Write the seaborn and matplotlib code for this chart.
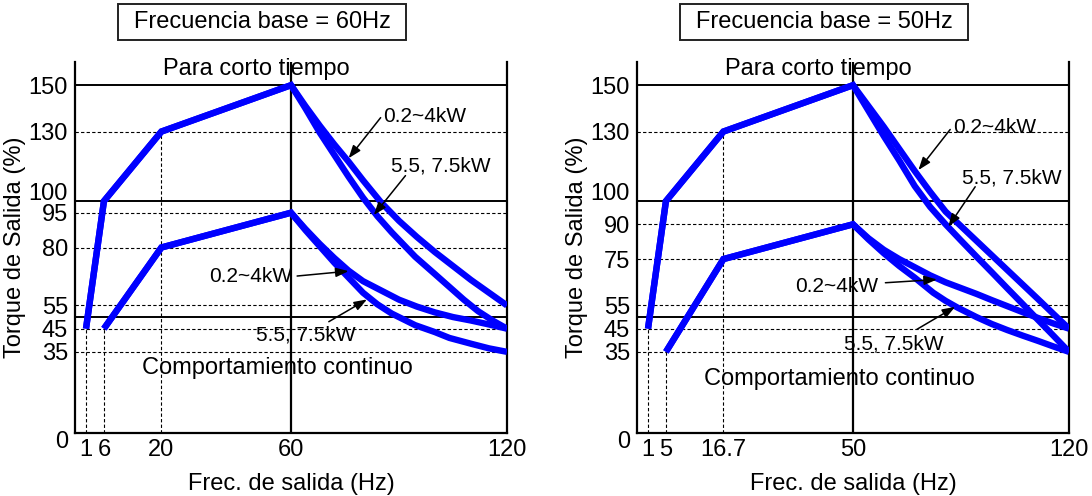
import numpy as np
import matplotlib
matplotlib.use("Agg")
import matplotlib.pyplot as plt
import seaborn as sns
from matplotlib.patches import Rectangle
from matplotlib.transforms import ScaledTranslation

# ---------------- data ----------------
# Left panel: base frequency 60 Hz
l_title = "Frecuencia base = 60Hz"
l_xticks = [1, 6, 20, 60, 120]
l_xtick_labels = ["1", "6", "20", "60", "120"]
l_yticks = [0, 35, 45, 55, 80, 95, 100, 130, 150]
l_dashed_h = [130, 95, 80, 55, 45, 35]
l_solid_h = [150, 100, 50]

l_short_rise_x = [1, 6, 20, 60]
l_short_rise_y = [45, 100, 130, 150]
l_short_small_x = [60, 64, 68, 72, 76, 80, 85, 90, 95, 100, 105, 110, 115, 120]
l_short_small_y = [150, 141, 132.5, 124.5, 117, 109, 99.5, 91.5, 84.5, 78, 72, 66, 60.5, 55]
l_short_big_x = [60, 64, 68, 72, 76, 80, 84, 88, 94.5, 100, 104, 108, 112, 116, 120]
l_short_big_y = [150, 140, 129.5, 120, 110.5, 101.5, 93.5, 86.5, 76, 68.5, 63, 57.5, 52.5, 48.5, 45]

l_cont_rise_x = [6, 20, 60]
l_cont_rise_y = [45, 80, 95]
l_cont_small_x = [60, 64, 68, 72, 76, 80, 85, 90, 95, 100, 105, 110, 115, 120]
l_cont_small_y = [95, 88, 81.5, 75.5, 70, 65.5, 61.5, 57.5, 54.5, 52, 50, 48.5, 46.8, 45]
l_cont_big_x = [60, 64, 68, 72, 76, 80, 84, 88, 94.5, 100, 104, 110, 115, 120]
l_cont_big_y = [95, 87.5, 80.5, 73.5, 67, 60.5, 55.5, 51.5, 46.5, 43.5, 41, 38.5, 36.5, 35]

# Right panel: base frequency 50 Hz
r_title = "Frecuencia base = 50Hz"
r_xticks = [1, 5, 16.7, 50, 120]
r_xtick_labels = ["1", "5", "16.7", "50", "120"]
r_yticks = [0, 35, 45, 55, 75, 90, 100, 130, 150]
r_dashed_h = [130, 90, 75, 55, 45, 35]
r_solid_h = [150, 100, 50]

r_short_rise_x = [1, 5, 16.7, 50]
r_short_rise_y = [45, 100, 130, 150]
r_short_small_x = [50, 55, 60, 65, 70, 75, 80, 85, 90, 95, 100, 105, 110, 115, 120]
r_short_small_y = [150, 141, 132, 122.5, 113, 104, 95.5, 89.2, 82.9, 76.6, 70.3, 64, 57.7, 51.3, 45]
r_short_big_x = [50, 55, 60, 65, 70, 75, 80, 85, 90, 95, 100, 105, 110, 115, 120]
r_short_big_y = [150, 139, 128, 117.5, 106.5, 97.5, 90, 83, 76.1, 69.3, 62.4, 55.6, 48.7, 41.9, 35]

r_cont_rise_x = [5, 16.7, 50]
r_cont_rise_y = [35, 75, 90]
r_cont_small_x = [50, 55, 60, 65, 70, 75, 80, 85, 90, 95, 100, 105, 110, 115, 120]
r_cont_small_y = [90, 84, 79, 75, 71.5, 68, 65, 62.5, 60, 57.3, 54.7, 52.1, 49.6, 47.2, 45]
r_cont_big_x = [50, 55, 60, 65, 70, 76, 80, 84, 90, 95, 100, 105, 110, 115, 120]
r_cont_big_y = [90, 83.5, 77.5, 72, 67, 60.5, 57, 54, 50, 47, 44.4, 42, 39.7, 37.3, 35]

label_small = "0.2~4kW"
label_big = "5.5, 7.5kW"
txt_short = "Para corto tiempo"
txt_cont = "Comportamiento continuo"
xlabel = "Frec. de salida (Hz)"
ylabel = "Torque de Salida (%)"

# ---------------- style ----------------
sns.set_style("white")
plt.rcParams['font.family'] = ['Liberation Sans', 'DejaVu Sans']
BLUE = "#0000ff"
FS = 17
FS_TITLE = 17
FS_ANN = 15

fig = plt.figure(figsize=(10.92, 4.96), dpi=100)
ax_l = fig.add_axes([75 / 1092, 1 - 433 / 496, 432 / 1092, 371 / 496])
ax_r = fig.add_axes([637 / 1092, 1 - 433 / 496, 432 / 1092, 371 / 496])


def make_scale(bp):
    frac = [0, 0.0255, 0.067, 0.2, 0.5, 1.0]
    def fwd(x):
        return np.interp(x, bp, frac)
    def inv(y):
        return np.interp(y, frac, bp)
    return fwd, inv


def join(ax_, ay_, bx_, by_):
    # a rising branch continued by a falling branch that starts at its peak
    return list(ax_) + list(bx_[1:]), list(ay_) + list(by_[1:])


def draw_panel(ax, bp, title, xticks, xlabels, yticks, dashed, solid,
               curves, vlines_x, vlines_top, base, ann, cont_y):
    fwd, inv = make_scale(bp)
    ax.set_xscale('function', functions=(fwd, inv))
    ax.set_xlim(0, 120)
    ax.set_ylim(0, 160)

    for v in dashed:
        ax.axhline(v, color='black', lw=0.8, ls=(0, (3, 2)), zorder=1)
    for v in solid:
        ax.axhline(v, color='black', lw=1.4, zorder=1)
    ax.axvline(base, color='black', lw=1.6, zorder=1)
    ax.vlines(vlines_x, 0, vlines_top, color='black', lw=0.8,
              linestyles=[(0, (3, 2))], zorder=1)

    for cx, cy in curves:
        sns.lineplot(x=cx, y=cy, ax=ax, color=BLUE, lw=4.6, sort=False,
                     estimator=None, solid_joinstyle='miter',
                     solid_capstyle='butt', zorder=3)

    for s in ['left', 'right', 'bottom']:
        ax.spines[s].set_visible(True)
        ax.spines[s].set_color('black')
        ax.spines[s].set_linewidth(1.6)
    ax.spines['top'].set_visible(False)

    ax.set_xticks(xticks)
    ax.set_xticklabels(xlabels)
    ax.set_yticks(yticks)
    ax.set_yticklabels([str(v) for v in yticks])
    ax.tick_params(axis='both', length=0, labelsize=FS, colors='black')
    ax.tick_params(axis='y', pad=5)
    ax.tick_params(axis='x', pad=4)
    ax.minorticks_off()
    for lab, v in zip(ax.get_yticklabels(), yticks):
        if v == 100:
            lab.set_transform(lab.get_transform() +
                              ScaledTranslation(0, 10 / 100, fig.dpi_scale_trans))
        if v == 0:
            lab.set_transform(lab.get_transform() +
                              ScaledTranslation(0, -7 / 100, fig.dpi_scale_trans))

    ax.set_xlabel(xlabel, fontsize=FS, labelpad=9, color='black')
    ax.set_ylabel(ylabel, fontsize=FS, labelpad=2, color='black')

    # title box
    ax.add_patch(Rectangle((0.099, 1.059), 0.668, 0.097, transform=ax.transAxes,
                           fill=False, edgecolor='#222222', lw=1.4, clip_on=False))
    ax.text(0.433, 1.108, title, transform=ax.transAxes, ha='center',
            va='center', fontsize=FS_TITLE, color='black')

    # region labels
    ax.text(0.42, 154.3, txt_short, transform=ax.get_yaxis_transform(),
            ha='center', va='baseline', fontsize=FS, color='black')
    ax.text(0.468, cont_y, txt_cont, transform=ax.get_yaxis_transform(),
            ha='center', va='baseline', fontsize=FS, color='black')

    # annotations
    for text, tx, ty, ha, tail, head in ann:
        ax.text(tx, ty, text, ha=ha, va='baseline', fontsize=FS_ANN,
                color='black', zorder=5)
        ax.annotate('', xy=head, xytext=tail,
                    arrowprops=dict(arrowstyle='-|>,head_length=0.55,head_width=0.2',
                                    color='black', lw=1.1, shrinkA=0, shrinkB=0,
                                    mutation_scale=14), zorder=5)


draw_panel(
    ax_l, [0, 1, 6, 20, 60, 120], l_title, l_xticks, l_xtick_labels, l_yticks,
    l_dashed_h, l_solid_h,
    [join(l_short_rise_x, l_short_rise_y, l_short_small_x, l_short_small_y),
     join(l_short_rise_x, l_short_rise_y, l_short_big_x, l_short_big_y),
     join(l_cont_rise_x, l_cont_rise_y, l_cont_small_x, l_cont_small_y),
     join(l_cont_rise_x, l_cont_rise_y, l_cont_big_x, l_cont_big_y)],
    [l_short_rise_x[0], l_cont_rise_x[0], l_cont_rise_x[1]],
    [l_short_rise_y[0], l_cont_rise_y[0], l_short_rise_y[2]],
    60,
    [(label_small, 85.7, 134.2, 'left', (84.9, 136), (76, 118.5)),
     (label_big, 87.9, 112.6, 'left', (91.8, 111), (83, 94)),
     (label_small, 60.3, 65.2, 'right', (61.7, 67.7), (76, 69.8)),
     (label_big, 77.9, 40, 'right', (70.5, 48), (81.1, 57.6))],
    25.4)

draw_panel(
    ax_r, [0, 1, 5, 16.7, 50, 120], r_title, r_xticks, r_xtick_labels, r_yticks,
    r_dashed_h, r_solid_h,
    [join(r_short_rise_x, r_short_rise_y, r_short_small_x, r_short_small_y),
     join(r_short_rise_x, r_short_rise_y, r_short_big_x, r_short_big_y),
     join(r_cont_rise_x, r_cont_rise_y, r_cont_small_x, r_cont_small_y),
     join(r_cont_rise_x, r_cont_rise_y, r_cont_big_x, r_cont_big_y)],
    [r_short_rise_x[0], r_cont_rise_x[0], r_cont_rise_x[1]],
    [r_short_rise_y[0], r_cont_rise_y[0], r_short_rise_y[2]],
    50,
    [(label_small, 82.6, 129.3, 'left', (81.5, 130.9), (71.2, 113.4)),
     (label_big, 85.3, 107.8, 'left', (89.6, 106.2), (80.9, 89)),
     (label_small, 58.3, 60.9, 'right', (60.5, 64.8), (77.2, 66.2)),
     (label_big, 79.3, 35.8, 'right', (70.7, 44.7), (83.1, 54.4))],
    20.7)

fig.savefig("out.png", dpi=100)
